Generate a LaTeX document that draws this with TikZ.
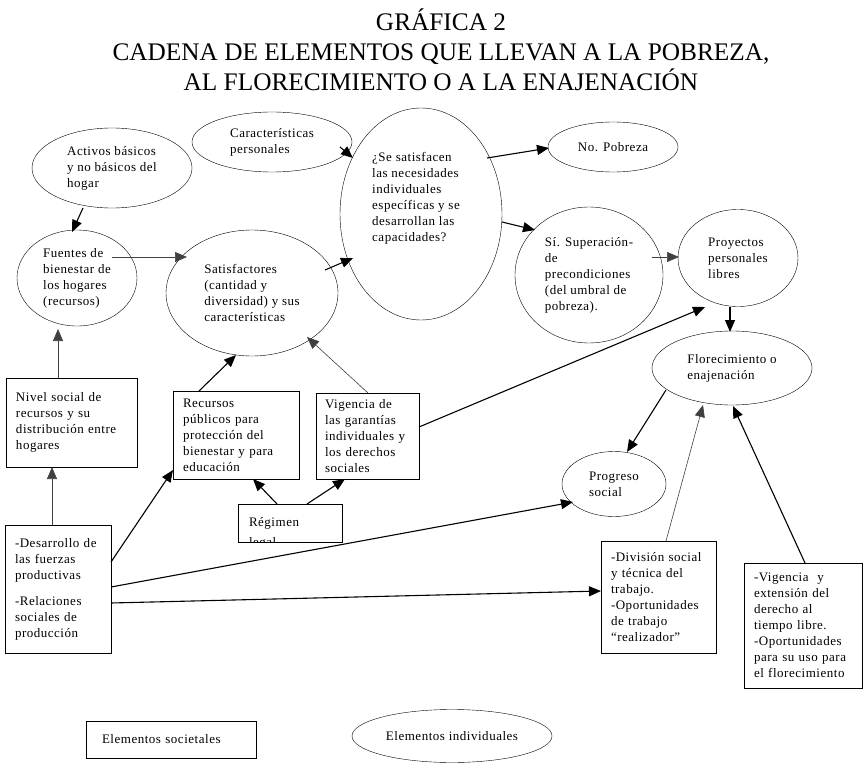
\documentclass[tikz,border=0pt]{standalone}
\usepackage{fontspec}
\setmainfont{Liberation Serif}[LetterSpace=4]
\newfontfamily\titlefont{Liberation Serif}
\usetikzlibrary{positioning,calc,shapes.geometric,arrows.meta}

\begin{document}
\begin{tikzpicture}[
    x=1pt, y=-1pt,
    every node/.style={font=\fontsize{13}{16}\selectfont},
    oval/.style={ellipse, draw, inner sep=0pt, align=left},
    box/.style={rectangle, draw, inner xsep=10pt, inner ysep=0pt, align=left},
    conn/.style={-{Triangle[length=12pt,width=10pt]}, line width=1.1pt},
    thinconn/.style={conn, line width=0.6pt, draw=black!75} % lighter links
]
\useasboundingbox (0,0) rectangle (865,765);

% Title
\node[font=\titlefont\fontsize{25.3}{30}\selectfont, align=center] (title) at (441,50)
  {GRÁFICA 2\\CADENA DE ELEMENTOS QUE LLEVAN A LA POBREZA,\\AL FLORECIMIENTO O A LA ENAJENACIÓN};

% Individual elements (ellipses)
\node[oval, minimum width=160, minimum height=80] (activos) at (112,168) {Activos básicos\\y no básicos del\\hogar};
\node[oval, minimum width=160, minimum height=60] (caract) at (272,142) {Características\\personales};
\node[oval, minimum width=120, minimum height=96] (fuentes) at (77,278) {Fuentes de\\bienestar de\\los hogares\\(recursos)};
\node[oval, minimum width=172, minimum height=126] (satisf) at (252,293) {Satisfactores\\(cantidad y\\diversidad) y sus\\características};
\node[oval, minimum width=162, minimum height=212] (pregunta) at (421,214) {};
\node[align=left] (preguntatext) at (416,198) {¿Se satisfacen\\las necesidades\\individuales\\específicas y se\\desarrollan las\\capacidades?};
\node[oval, minimum width=130, minimum height=50] (nopobreza) at (613,147) {No. Pobreza};
\node[oval, minimum width=148, minimum height=136] (si) at (589,275) {Sí. Superación-\\de\\precondiciones\\(del umbral de\\pobreza).};
\node[oval, minimum width=120, minimum height=97] (proyectos) at (738,258) {Proyectos\\personales\\libres};
\node[oval, minimum width=160, minimum height=74] (flor) at (732,368) {Florecimiento o\\enajenación};
\node[oval, minimum width=104, minimum height=65] (progreso) at (614,484) {Progreso\\social};

% Societal elements (boxes)
\node[box, text width=111, minimum height=89] (nivel) at (71.5,422.5) {Nivel social de\\recursos y su\\distribución entre\\hogares};
\node[box, text width=106, minimum height=88] (recursos) at (236,435) {Recursos\\públicos para\\protección del\\bienestar y para\\educación};
\node[box, text width=85, inner xsep=9pt, minimum height=86] (vigencia) at (367.5,436) {Vigencia de\\las garantías\\individuales y\\los derechos\\sociales};
\node[box, minimum width=104, minimum height=38] (regimen) at (290,523) {};
\begin{scope}
  \clip (regimen.north west) rectangle (regimen.south east);
  \node[anchor=base west, inner sep=0pt, align=left, font=\fontsize{13}{20}\selectfont] (regimentext)
    at ($(regimen.north west)+(11,43)$) {Régimen\\legal};
\end{scope}
\node[box, text width=86, minimum height=128] (desarrollo) at (58,589) {-Desarrollo de\\las fuerzas\\productivas\\[10pt]-Relaciones\\sociales de\\producción};
\node[box, text width=95, minimum height=112] (division) at (658.5,597) {-División social\\y técnica del\\trabajo.\\-Oportunidades\\de trabajo\\“realizador”};
\node[box, text width=98, minimum height=125] (libre) at (803,625.5) {-Vigencia~ y\\extensión del\\derecho al\\tiempo libre.\\-Oportunidades\\para su uso para\\el florecimiento};

% Legend
\node[box, text width=138, inner xsep=16pt, minimum height=37] (societales) at (171,739.5) {Elementos societales};
\node[ellipse, draw, inner sep=0pt, minimum width=200, minimum height=53] (individuales) at (452,736) {Elementos individuales};

% Connectors
\draw[conn] ($(activos)+(-29,40)$) -- ($(fuentes)+(-5,-46)$);
\draw[thinconn] ($(fuentes)+(35,-21)$) -- ($(satisf)+(-65,-36)$);
\draw[conn] ($(satisf)+(73,-23)$) -- ($(pregunta)+(-68,44)$);
\draw[conn] ($(caract)+(68,5)$) -- ($(pregunta)+(-68,-56)$);
\draw[conn] ($(pregunta)+(66,-56)$) -- ($(nopobreza)+(-64,1)$);
\draw[conn] ($(pregunta)+(81,8)$) -- ($(si)+(-54,-45)$);
\draw[thinconn] ($(si)+(63,-18)$) -- ($(proyectos)+(-59,-1)$);
\draw[conn] ($(proyectos)+(-8,49)$) -- ($(flor)+(-2,-36)$);
\draw[conn] ($(vigencia)+(51.5,-9)$) -- ($(proyectos)+(-33,49)$);
\draw[conn] ($(flor)+(-66,22)$) -- ($(progreso)+(13,-32)$);
\draw[thinconn] ($(division)+(7.5,-56)$) -- ($(flor)+(-29,37)$);
\draw[conn] ($(libre)+(2,-62.5)$) -- ($(flor)+(1,38)$);
\draw[conn] ($(desarrollo)+(53,-27)$) -- ($(recursos)+(-63,35)$);
\draw[conn] ($(desarrollo)+(53,-2)$) -- ($(progreso)+(-41,18)$);
\draw[conn] ($(desarrollo)+(53,14)$) -- ($(division)+(-57.5,-6)$);
\draw[thinconn] ($(desarrollo)+(-6,-64)$) -- ($(nivel)+(-19.5,44.5)$);
\draw[thinconn] ($(nivel)+(-13.5,-44.5)$) -- ($(fuentes)+(-19,51)$);
\draw[conn] ($(recursos)+(-37,-44)$) -- ($(satisf)+(-16,62)$);
\draw[thinconn] ($(vigencia)+(0.5,-43)$) -- ($(satisf)+(55,44)$);
\draw[conn] ($(regimen)+(-13,-19)$) -- ($(recursos)+(17,44)$);
\draw[conn] ($(regimen)+(17,-19)$) -- ($(vigencia)+(-22.5,43)$);

\end{tikzpicture}
\end{document}
